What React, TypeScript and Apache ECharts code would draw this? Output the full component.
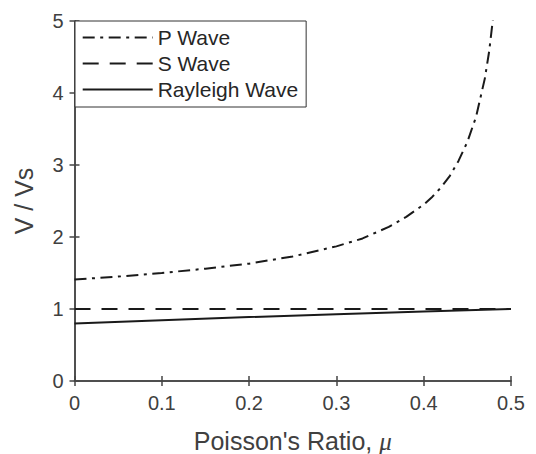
import React, { useEffect, useRef } from "react";
import * as echarts from "echarts";

const pX = [0, 0.05, 0.1, 0.15, 0.2, 0.25, 0.3, 0.33, 0.36, 0.38, 0.4, 0.41, 0.42, 0.43, 0.44, 0.45, 0.46, 0.47, 0.475, 0.48];
const pY = [1.41, 1.45, 1.5, 1.56, 1.63, 1.73, 1.87, 1.98, 2.14, 2.28, 2.45, 2.56, 2.69, 2.85, 3.06, 3.32, 3.67, 4.2, 4.58, 5.1];
const sX = [0, 0.5];
const sY = [1, 1];
const rX = [0, 0.1, 0.2, 0.3, 0.4, 0.5];
const rY = [0.8, 0.845, 0.888, 0.928, 0.965, 1.0];
const xTickLabels = ["0", "0.1", "0.2", "0.3", "0.4", "0.5"];
const yTickLabels = ["0", "1", "2", "3", "4", "5"];
const seriesNames = ["P Wave", "S Wave", "Rayleigh Wave"];

const FONT = "Liberation Sans, Arial, Helvetica, sans-serif";
const AXIS_COLOR = "#444444";
const TEXT_COLOR = "#404040";
const LINE_COLOR = "#1a1a1a";

const zip = (xs: number[], ys: number[]) => xs.map((x, i) => [x, ys[i]]);

export default function App() {
  const ref = useRef<HTMLDivElement>(null);
  useEffect(() => {
    if (!ref.current) return;
    const chart = echarts.init(ref.current, null, { renderer: "svg" });
    const axisLine = { show: true, lineStyle: { color: AXIS_COLOR, width: 1.5 } };
    const tick = { show: true, inside: true, length: 5, lineStyle: { color: AXIS_COLOR, width: 1.5 } };
    chart.setOption({
      animation: false,
      backgroundColor: "#ffffff",
      textStyle: { fontFamily: FONT },
      grid: { left: 74.5, right: 25, top: 21, bottom: 73, containLabel: false, outerBoundsMode: "none" },
      legend: {
        orient: "vertical",
        left: 75,
        top: 21,
        data: seriesNames,
        itemWidth: 70,
        itemHeight: 14,
        itemGap: 5,
        padding: [6, 8, 7, 6.7],
        borderColor: "#333333",
        borderWidth: 1,
        backgroundColor: "#ffffff",
        itemStyle: { color: "rgba(0,0,0,0)", borderWidth: 0, opacity: 0 },
        textStyle: { fontSize: 21, color: "#262626", fontFamily: FONT },
      },
      xAxis: [
        {
          type: "value",
          position: "bottom",
          min: 0,
          max: 0.5,
          interval: 0.1,
          axisLine,
          axisTick: tick,
          splitLine: { show: false },
          axisLabel: {
            fontSize: 20,
            color: TEXT_COLOR,
            margin: 12,
            formatter: (v: number) => xTickLabels[Math.round(v * 10)],
          },
          name: "Poisson's Ratio, {i|μ}",
          nameLocation: "middle",
          nameGap: 50,
          nameTextStyle: {
            fontSize: 25,
            lineHeight: 20,
            color: TEXT_COLOR,
            fontFamily: FONT,
            rich: {
              i: {
                fontSize: 25,
                lineHeight: 20,
                fontStyle: "italic",
                fontFamily: "Liberation Serif, serif",
                color: TEXT_COLOR,
              },
            },
          },
        },
        {
          type: "value",
          position: "top",
          min: 0,
          max: 0.5,
          interval: 0.1,
          axisLine,
          axisTick: tick,
          axisLabel: { show: false },
          splitLine: { show: false },
        },
      ],
      yAxis: [
        {
          type: "value",
          position: "left",
          min: 0,
          max: 5,
          interval: 1,
          axisLine,
          axisTick: tick,
          splitLine: { show: false },
          axisLabel: {
            fontSize: 20,
            color: TEXT_COLOR,
            margin: 11,
            formatter: (v: number) => yTickLabels[Math.round(v)],
          },
          name: "V / Vs",
          nameLocation: "middle",
          nameGap: 38,
          nameTextStyle: { fontSize: 25, color: TEXT_COLOR, fontFamily: FONT },
        },
        {
          type: "value",
          position: "right",
          min: 0,
          max: 5,
          interval: 1,
          axisLine,
          axisTick: tick,
          axisLabel: { show: false },
          splitLine: { show: false },
        },
      ],
      series: [
        {
          name: seriesNames[0],
          type: "line",
          data: zip(pX, pY),
          symbol: "none",
          showSymbol: false,
          clip: true,
          lineStyle: { color: LINE_COLOR, width: 2, type: [12, 5.5, 3, 5.5] },
          itemStyle: { color: LINE_COLOR },
        },
        {
          name: seriesNames[1],
          type: "line",
          data: zip(sX, sY),
          symbol: "none",
          showSymbol: false,
          lineStyle: { color: LINE_COLOR, width: 2, type: [16, 11] },
          itemStyle: { color: LINE_COLOR },
        },
        {
          name: seriesNames[2],
          type: "line",
          data: zip(rX, rY),
          symbol: "none",
          showSymbol: false,
          lineStyle: { color: LINE_COLOR, width: 2, type: "solid" },
          itemStyle: { color: LINE_COLOR },
        },
      ],
    });
    return () => chart.dispose();
  }, []);
  return (
    <div
      ref={ref}
      style={{ position: "fixed", left: 0, top: 0, width: 536, height: 454, background: "#fff" }}
    />
  );
}
